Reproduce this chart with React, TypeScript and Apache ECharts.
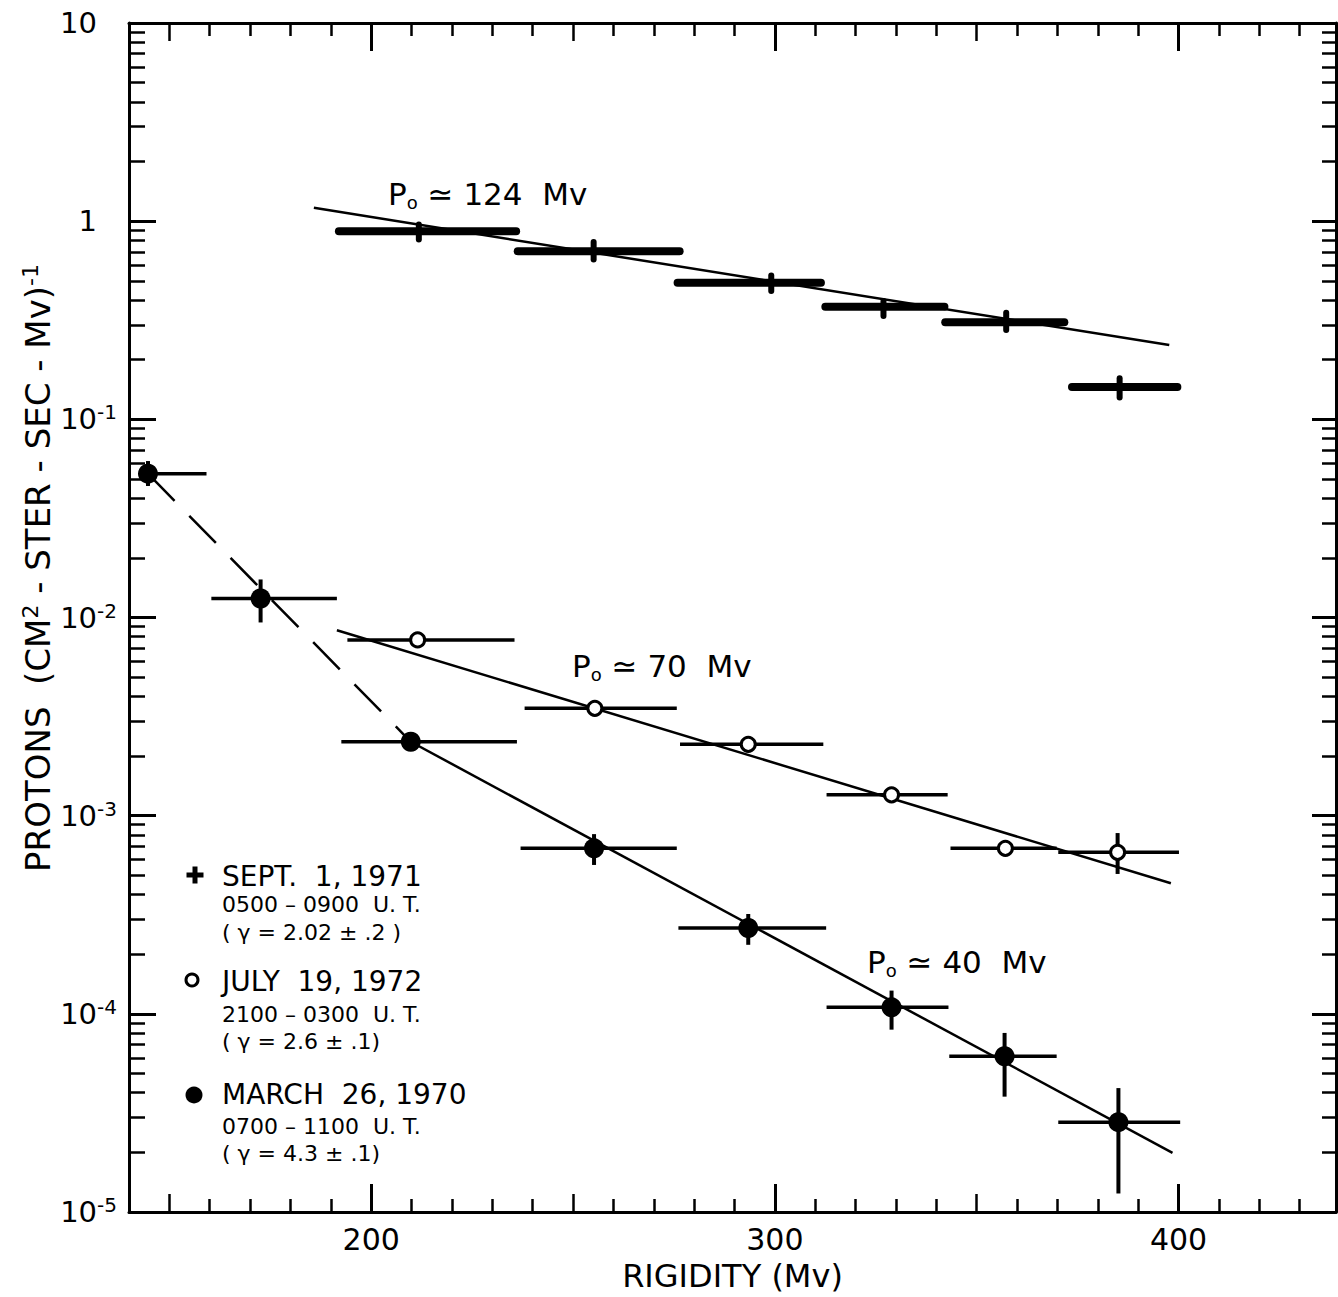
import React, { useEffect, useRef } from 'react';
import * as echarts from 'echarts';

const FONT = '"DejaVu Sans", "Liberation Sans", sans-serif';

// ---- Sept 1, 1971 (plus) ----
const septX = [211.8, 255.1, 299.1, 326.9, 357.3, 385.4];
const septY = [0.89, 0.706, 0.489, 0.37, 0.309, 0.1455];
const septXLo = [192.0, 236.3, 275.9, 312.5, 342.2, 373.6];
const septXHi = [235.9, 276.4, 311.4, 342.0, 371.7, 399.7];
const septYLo = [0.809, 0.641, 0.444, 0.332, 0.282, 0.129];
const septYHi = [0.962, 0.784, 0.532, 0.395, 0.345, 0.161];
const septFitX = [185.8, 397.7];
const septFitY = [1.168, 0.237];

// ---- July 19, 1972 (open circles) ----
const julyX = [211.5, 255.4, 293.4, 328.9, 357.1, 384.9];
const julyY = [0.00771, 0.00348, 0.00229, 0.001274, 0.000684, 0.000653];
const julyXLo = [194.1, 238.0, 276.5, 312.8, 343.5, 370.2];
const julyXHi = [235.5, 275.7, 312.0, 342.8, 369.8, 400.1];
const julyYLo = [null, null, null, null, null, 0.000508];
const julyYHi = [null, null, null, null, null, 0.000817];
const julyFitX = [191.5, 398.1];
const julyFitY = [0.00863, 0.000456];

// ---- March 26, 1970 (filled circles) ----
const marchX = [144.7, 172.6, 209.8, 255.2, 293.4, 328.9, 356.9, 385.1];
const marchY = [0.0532, 0.01247, 0.00236, 0.000684, 0.000271, 0.0001079, 0.0000611, 0.0000284];
const marchXLo = [142.5, 160.4, 192.6, 237.0, 276.1, 312.8, 343.2, 370.2];
const marchXHi = [159.2, 191.5, 236.1, 275.7, 312.7, 343.0, 369.8, 400.4];
const marchYLo = [0.0461, 0.00944, null, 0.000564, 0.000223, 0.0000832, 0.0000382, 0.0000124];
const marchYHi = [0.0616, 0.01556, null, 0.000807, 0.000319, 0.000131, 0.0000801, 0.0000422];
const marchDashX = [144.7, 209.8];
const marchDashY = [0.0532, 0.00236];
const marchFitX = [209.8, 398.5];
const marchFitY = [0.00236, 0.0000199];

// ---- axes ----
const xMajorTicks = [200, 300, 400];
const xMidTicks = [150, 250, 350];
const xMinorTicks = [160, 170, 180, 190, 210, 220, 230, 240, 260, 270, 280, 290, 310, 320, 330, 340, 360, 370, 380, 390, 410, 420, 430];
const xTickLabels = [200, 300, 400];
const yTickValues = [0.00001, 0.0001, 0.001, 0.01, 0.1, 1, 10];
const yTickBase = ['10', '10', '10', '10', '10', '1', '10'];
const yTickExp = ['-5', '-4', '-3', '-2', '-1', '', ''];
const yDecades = [0.00001, 0.0001, 0.001, 0.01, 0.1, 1];
const yMultipliers = [2, 3, 4, 5, 6, 7, 8, 9];
const yMinorTicks = yDecades.flatMap((d) => yMultipliers.map((m) => m * d));

const xTitle = 'RIGIDITY (Mv)';

function errorSeries(xs: number[], ys: number[], xLo: number[], xHi: number[], yLo: (number | null)[], yHi: (number | null)[], hw: number, vw: number, cap: string) {
  return {
    type: 'custom',
    xAxisIndex: 0,
    yAxisIndex: 0,
    clip: true,
    z: 3,
    silent: true,
    data: xs.map((x, i) => [x, ys[i], xLo[i], xHi[i], yLo[i] == null ? ys[i] : yLo[i], yHi[i] == null ? ys[i] : yHi[i]]),
    encode: { x: [0, 2, 3], y: [1, 4, 5] },
    renderItem: (params: any, api: any) => {
      const x = api.value(0);
      const y = api.value(1);
      const l = api.coord([api.value(2), y]);
      const r = api.coord([api.value(3), y]);
      const lo = api.coord([x, api.value(4)]);
      const hi = api.coord([x, api.value(5)]);
      const children: any[] = [
        { type: 'line', shape: { x1: l[0], y1: l[1], x2: r[0], y2: r[1] }, style: { stroke: '#000', lineWidth: hw, lineCap: cap } },
      ];
      if (Math.abs(hi[1] - lo[1]) > 0.5) {
        children.push({ type: 'line', shape: { x1: lo[0], y1: lo[1], x2: hi[0], y2: hi[1] }, style: { stroke: '#000', lineWidth: vw, lineCap: cap } });
      }
      return { type: 'group', children };
    },
  };
}

function lineSeries(xs: number[], ys: number[], dashed: boolean) {
  return {
    type: 'line',
    xAxisIndex: 0,
    yAxisIndex: 0,
    data: xs.map((x, i) => [x, ys[i]]),
    symbol: 'none',
    z: 2,
    silent: true,
    lineStyle: { color: '#000', width: 2.5, type: dashed ? [38, 21] : 'solid' },
  };
}

function xAxisDef(position: string, ticks: number[], len: number, main: boolean, withLabels: boolean) {
  const ax: any = {
    type: 'value',
    position,
    min: 140,
    max: 439,
    splitLine: { show: false },
    axisLine: { show: main, onZero: false, lineStyle: { color: '#000', width: 3 } },
    axisTick: { show: true, inside: true, length: len, customValues: ticks, lineStyle: { color: '#000', width: main ? 3 : 2.5 } },
    axisLabel: { show: false },
  };
  if (withLabels) {
    ax.axisLabel = { show: true, customValues: xTickLabels, fontSize: 30, fontFamily: FONT, color: '#000', margin: 12 };
    ax.name = xTitle;
    ax.nameLocation = 'middle';
    ax.nameGap = 48;
    ax.nameTextStyle = { fontSize: 32, fontFamily: FONT, color: '#000' };
  }
  return ax;
}

function yAxisDef(position: string, ticks: number[], len: number, main: boolean, withLabels: boolean) {
  const ax: any = {
    type: 'log',
    logBase: 10,
    position,
    min: 0.00001,
    max: 10,
    splitLine: { show: false },
    axisLine: { show: main, onZero: false, lineStyle: { color: '#000', width: 3 } },
    axisTick: { show: true, inside: true, length: len, customValues: ticks, lineStyle: { color: '#000', width: main ? 3 : 2.5 } },
    axisLabel: { show: false },
  };
  if (withLabels) {
    ax.axisLabel = {
      show: true,
      customValues: yTickValues,
      margin: 12,
      color: '#000',
      formatter: (v: number) => {
        let idx = 0;
        let best = Infinity;
        yTickValues.forEach((t, i) => {
          const d = Math.abs(Math.log10(t) - Math.log10(v));
          if (d < best) { best = d; idx = i; }
        });
        const exp = yTickExp[idx];
        return exp ? `{b|${yTickBase[idx]}}{s|${exp}}` : `{bp|${yTickBase[idx]}}`;
      },
      rich: {
        b: { fontSize: 29, fontFamily: FONT, color: '#000', lineHeight: 34 },
        bp: { fontSize: 29, fontFamily: FONT, color: '#000', lineHeight: 34, padding: [0, 20, 0, 0] },
        s: { fontSize: 20, fontFamily: FONT, color: '#000', lineHeight: 18, verticalAlign: 'top' },
      },
    };
  }
  return ax;
}

function txt(x: number, y: number, text: string, size: number, extra: any = {}) {
  return {
    type: 'text',
    x,
    y,
    style: { text, fontSize: size, fontFamily: FONT, fill: '#000', align: 'left', verticalAlign: 'middle', ...extra },
  };
}

const poRich = {
  p: { fontSize: 31, fontFamily: FONT, color: '#000', lineHeight: 34 },
  o: { fontSize: 18, fontFamily: FONT, color: '#000', lineHeight: 16, verticalAlign: 'bottom' },
};

export default function App() {
  const ref = useRef<HTMLDivElement>(null);
  useEffect(() => {
    const chart = echarts.init(ref.current!, null, { renderer: 'svg' });
    const option: any = {
      animation: false,
      backgroundColor: '#fff',
      grid: { left: 129, right: 2, top: 23, bottom: 85, containLabel: false },
      xAxis: [
        xAxisDef('bottom', xMajorTicks, 28, true, true),
        xAxisDef('bottom', xMidTicks, 18, false, false),
        xAxisDef('bottom', xMinorTicks, 13, false, false),
        xAxisDef('top', xMajorTicks, 28, true, false),
        xAxisDef('top', xMidTicks, 18, false, false),
        xAxisDef('top', xMinorTicks, 13, false, false),
      ],
      yAxis: [
        yAxisDef('left', yTickValues, 27, true, true),
        yAxisDef('left', yMinorTicks, 16, false, false),
        yAxisDef('right', yTickValues, 24, true, false),
        yAxisDef('right', yMinorTicks, 14, false, false),
      ],
      series: [
        lineSeries(septFitX, septFitY, false),
        lineSeries(julyFitX, julyFitY, false),
        lineSeries(marchDashX, marchDashY, true),
        lineSeries(marchFitX, marchFitY, false),
        errorSeries(septX, septY, septXLo, septXHi, septYLo, septYHi, 8, 6, 'round'),
        errorSeries(julyX, julyY, julyXLo, julyXHi, julyYLo, julyYHi, 3.5, 4, 'butt'),
        errorSeries(marchX, marchY, marchXLo, marchXHi, marchYLo, marchYHi, 3.5, 4, 'butt'),
        {
          type: 'scatter',
          xAxisIndex: 0,
          yAxisIndex: 0,
          data: julyX.map((x, i) => [x, julyY[i]]),
          symbol: 'circle',
          symbolSize: 14,
          z: 5,
          silent: true,
          itemStyle: { color: '#fff', borderColor: '#000', borderWidth: 3, opacity: 1 },
        },
        {
          type: 'scatter',
          xAxisIndex: 0,
          yAxisIndex: 0,
          data: marchX.map((x, i) => [x, marchY[i]]),
          symbol: 'circle',
          symbolSize: 20,
          z: 5,
          silent: true,
          itemStyle: { color: '#000', opacity: 1 },
        },
      ],
      graphic: [
        {
          type: 'text',
          x: 38,
          y: 568,
          rotation: Math.PI / 2,
          style: {
            text: '{a|PROTONS  (CM}{s|2}{a| - STER - SEC - Mv)}{s|-1}',
            align: 'center',
            verticalAlign: 'middle',
            fill: '#000',
            rich: {
              a: { fontSize: 34, fontFamily: FONT, color: '#000', lineHeight: 38 },
              s: { fontSize: 22, fontFamily: FONT, color: '#000', lineHeight: 20, verticalAlign: 'top' },
            },
          },
        },
        txt(388, 194, '{p|P}{o|o}{p| ≃ 124  Mv}', 31, { rich: poRich }),
        txt(572, 666, '{p|P}{o|o}{p| ≃ 70  Mv}', 31, { rich: poRich }),
        txt(867, 962, '{p|P}{o|o}{p| ≃ 40  Mv}', 31, { rich: poRich }),
        // legend markers
        { type: 'rect', shape: { x: 186.5, y: 872.5, width: 17, height: 5 }, style: { fill: '#000' } },
        { type: 'rect', shape: { x: 192.5, y: 866.5, width: 5, height: 17 }, style: { fill: '#000' } },
        { type: 'circle', shape: { cx: 192, cy: 980, r: 6 }, style: { fill: '#fff', stroke: '#000', lineWidth: 3 } },
        { type: 'circle', shape: { cx: 194, cy: 1095, r: 8.5 }, style: { fill: '#000' } },
        // legend texts
        txt(222, 876, 'SEPT.  1, 1971', 28),
        txt(222, 904, '0500 – 0900  U. T.', 22),
        txt(222, 932, '( γ = 2.02 ± .2 )', 22),
        txt(222, 981, 'JULY  19, 1972', 28),
        txt(222, 1014, '2100 – 0300  U. T.', 22),
        txt(222, 1041, '( γ = 2.6 ± .1)', 22),
        txt(222, 1094, 'MARCH  26, 1970', 28),
        txt(222, 1126, '0700 – 1100  U. T.', 22),
        txt(222, 1153, '( γ = 4.3 ± .1)', 22),
      ],
    };
    chart.setOption(option);
    return () => chart.dispose();
  }, []);
  return <div ref={ref} style={{ position: 'absolute', left: 0, top: 0, width: 1338, height: 1297, background: '#fff' }} />;
}
